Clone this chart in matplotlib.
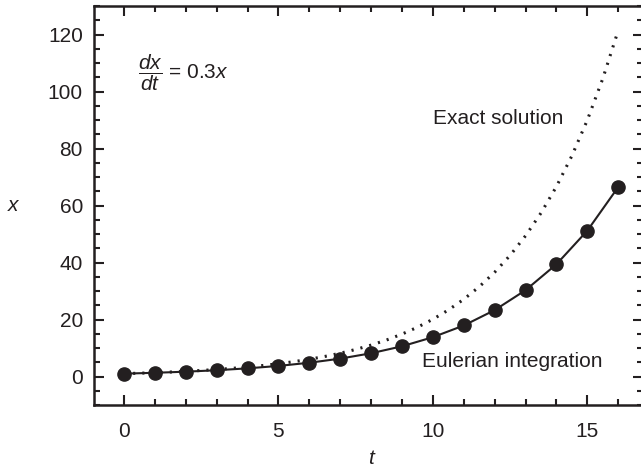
import matplotlib
matplotlib.use("Agg")
import matplotlib.pyplot as plt
from matplotlib.ticker import MultipleLocator

# Eulerian integration points
t_euler = [0, 1, 2, 3, 4, 5, 6, 7, 8, 9, 10, 11, 12, 13, 14, 15, 16]
x_euler = [1.0, 1.3, 1.69, 2.2, 2.86, 3.71, 4.83, 6.27, 8.16, 10.6, 13.8,
           17.9, 23.3, 30.3, 39.4, 51.2, 66.5]

# Exact solution curve
t_exact = [0, 0.5, 1, 1.5, 2, 2.5, 3, 3.5, 4, 4.5, 5, 5.5, 6, 6.5, 7, 7.5, 8,
           8.5, 9, 9.5, 10, 10.5, 11, 11.5, 12, 12.5, 13, 13.5, 14, 14.5, 15,
           15.5, 16]
x_exact = [1.0, 1.16, 1.35, 1.57, 1.82, 2.12, 2.46, 2.86, 3.32, 3.86, 4.48,
           5.21, 6.05, 7.03, 8.17, 9.49, 11.02, 12.81, 14.88, 17.29, 20.09,
           23.34, 27.11, 31.5, 36.6, 42.52, 49.4, 57.4, 66.69, 77.48, 90.02,
           104.58, 121.5]

ink = "#231f20"
plt.rcParams['font.family'] = ['Liberation Sans', 'DejaVu Sans']
plt.rcParams['mathtext.fontset'] = 'custom'
plt.rcParams['mathtext.rm'] = 'Liberation Sans'
plt.rcParams['mathtext.it'] = 'Liberation Sans:italic'

FS = 15

fig = plt.figure(figsize=(6.41, 4.70), dpi=100)
ax = fig.add_axes([94/641, 65/470, (643-94)/641, (464-65)/470])

ax.plot(t_exact, x_exact, color=ink, lw=2.2, linestyle=(0, (0.7, 2.3)),
        dash_capstyle='butt')
ax.plot(t_euler, x_euler, color=ink, lw=1.5, marker='o', markersize=9.5)

ax.set_xlim(-0.97, 16.8)
ax.set_ylim(-10, 130)
ax.xaxis.set_major_locator(MultipleLocator(5))
ax.xaxis.set_minor_locator(MultipleLocator(1))
ax.yaxis.set_major_locator(MultipleLocator(20))
ax.yaxis.set_minor_locator(MultipleLocator(5))
ax.tick_params(which='both', direction='in', top=True, right=True,
               color=ink, labelcolor=ink, labelsize=FS, width=1.5)
ax.tick_params(which='major', length=7)
ax.tick_params(which='minor', length=4)
ax.tick_params(axis='y', which='major', pad=8)
ax.tick_params(axis='x', which='major', pad=12.5)
for s in ax.spines.values():
    s.set_linewidth(1.8)
    s.set_color(ink)

ax.set_xlabel('$t$', fontsize=FS, color=ink)
ax.set_ylabel('$x$', fontsize=FS, color=ink, rotation=0, ha='center',
              va='center')
ax.xaxis.set_label_coords(0.506, -0.11)
ax.yaxis.set_label_coords(-0.146, 0.5)

ax.text(0.45, 106.5, r'$\dfrac{dx}{dt}$ = 0.3$x$', fontsize=FS, color=ink,
        va='center', ha='left')
ax.text(10.0, 90.5, 'Exact solution', fontsize=FS, color=ink,
        va='center', ha='left')
ax.text(9.65, 5.2, 'Eulerian integration', fontsize=FS, color=ink,
        va='center', ha='left')

fig.savefig('out.png', dpi=100)
